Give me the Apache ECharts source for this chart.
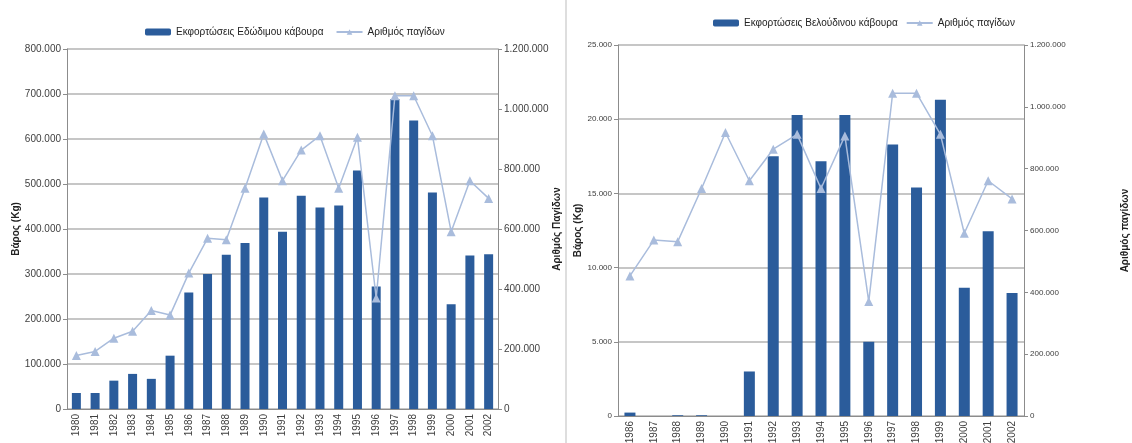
<!DOCTYPE html>
<html>
<head>
<meta charset="utf-8">
<script src="https://cdn.jsdelivr.net/npm/echarts@6/dist/echarts.min.js"></script>
<style>
  html, body { margin: 0; padding: 0; background: #fff; }
  #chart { width: 1132px; height: 443px; }
</style>
</head>
<body>
<div id="chart"></div>
<script>
// αριστερό γράφημα: 1980-2002
var yearsLeft = ['1980','1981','1982','1983','1984','1985','1986','1987','1988','1989','1990','1991',
                 '1992','1993','1994','1995','1996','1997','1998','1999','2000','2001','2002'];
var edibleCrab = [35600, 35600, 63000, 78000, 67000, 118500, 259000, 300000, 343000, 369000, 470000, 394000,
                  474000, 448000, 452000, 530000, 272000, 689000, 641000, 481000, 233000, 341000, 344000];
var trapsLeft = [178000, 192000, 236000, 259000, 328000, 313000, 453000, 569000, 564000, 736000, 917000, 761000,
                 863000, 911000, 736000, 906000, 370000, 1044000, 1044000, 911000, 591000, 761000, 702000];

// δεξί γράφημα: 1986-2002
var yearsRight = ['1986','1987','1988','1989','1990','1991','1992','1993','1994','1995','1996','1997',
                  '1998','1999','2000','2001','2002'];
var velvetCrab = [230, 0, 50, 50, 0, 3000, 17500, 20280, 17160, 20280, 5000, 18300, 15390, 21310, 8650, 12450, 8290];
var trapsRight = [453000, 569000, 564000, 736000, 917000, 761000, 863000, 911000, 736000, 906000, 370000,
                  1044000, 1044000, 911000, 591000, 761000, 702000];

var barColor = '#2b5c9b';
var lineColor = '#a9bcdc';
var txt = '#404040';
var font = 'Liberation Sans';

// 800000 -> 800.000
function fmt(v) {
    return String(v).replace(/\B(?=(\d{3})+(?!\d))/g, '.');
}

function valueAxis(gi, max, step, name, pos, size, gap, showSplit) {
    return {
        type: 'value', gridIndex: gi, position: pos, min: 0, max: max, interval: step,
        name: name, nameLocation: 'middle', nameRotate: 90, nameGap: gap,
        nameTextStyle: { fontFamily: font, fontWeight: 'bold', fontSize: 10, color: '#222' },
        axisLine: { show: true, lineStyle: { color: '#8c8c8c' } },
        axisTick: { show: true, length: 4, lineStyle: { color: '#8c8c8c' } },
        axisLabel: { formatter: fmt, fontFamily: font, fontSize: size, color: txt, margin: 6 },
        splitLine: { show: showSplit, lineStyle: { color: '#b3b3b3', width: 1.5 } }
    };
}

function catAxis(gi, data, size) {
    return {
        type: 'category', gridIndex: gi, data: data,
        axisLine: { lineStyle: { color: '#8c8c8c' } },
        axisTick: { length: 4, lineStyle: { color: '#8c8c8c' } },
        axisLabel: { rotate: 90, fontFamily: font, fontSize: size, color: txt, margin: 5 }
    };
}

var chart = echarts.init(document.getElementById('chart'));
chart.setOption({
    animation: false,
    backgroundColor: '#fff',
    grid: [
        { left: 67, top: 49, width: 431, height: 360, outerBoundsMode: 'none' },
        { left: 618, top: 45, width: 406, height: 371, outerBoundsMode: 'none' }
    ],
    legend: [
        {
            left: 140, top: 22, itemWidth: 26, itemHeight: 7, itemGap: 12,
            textStyle: { fontFamily: font, fontSize: 10, color: '#222' },
            data: ['Εκφορτώσεις Εδώδιμου κάβουρα', 'Αριθμός παγίδων']
        },
        {
            left: 708, top: 13, itemWidth: 26, itemHeight: 7, itemGap: 8,
            textStyle: { fontFamily: font, fontSize: 10, color: '#222' },
            data: ['Εκφορτώσεις Βελούδινου κάβουρα', { name: 'Αριθμός παγίδων ' }]
        }
    ],
    xAxis: [catAxis(0, yearsLeft, 10), catAxis(1, yearsRight, 10)],
    yAxis: [
        valueAxis(0, 800000, 100000, 'Βάρος (Kg)', 'left', 10, 44, true),
        valueAxis(0, 1200000, 200000, 'Αριθμός Παγίδων', 'right', 10, 45, false),
        valueAxis(1, 25000, 5000, 'Βάρος (Kg)', 'left', 8, 31, true),
        valueAxis(1, 1200000, 200000, 'Αριθμός παγίδων', 'right', 8, 96, false)
    ],
    graphic: [
        { type: 'line', shape: { x1: 566, y1: 0, x2: 566, y2: 443 }, style: { stroke: '#bdbdbd', lineWidth: 1 } }
    ],
    series: [
        {
            name: 'Εκφορτώσεις Εδώδιμου κάβουρα', type: 'bar', xAxisIndex: 0, yAxisIndex: 0,
            data: edibleCrab, barWidth: 9, itemStyle: { color: barColor }
        },
        {
            name: 'Αριθμός παγίδων', type: 'line', xAxisIndex: 0, yAxisIndex: 1,
            data: trapsLeft, symbol: 'triangle', symbolSize: 9,
            lineStyle: { color: lineColor, width: 1.5 }, itemStyle: { color: lineColor }
        },
        {
            name: 'Εκφορτώσεις Βελούδινου κάβουρα', type: 'bar', xAxisIndex: 1, yAxisIndex: 2,
            data: velvetCrab, barWidth: 11, itemStyle: { color: barColor }
        },
        {
            name: 'Αριθμός παγίδων ', type: 'line', xAxisIndex: 1, yAxisIndex: 3,
            data: trapsRight, symbol: 'triangle', symbolSize: 9,
            lineStyle: { color: lineColor, width: 1.5 }, itemStyle: { color: lineColor }
        }
    ]
});
</script>
</body>
</html>
